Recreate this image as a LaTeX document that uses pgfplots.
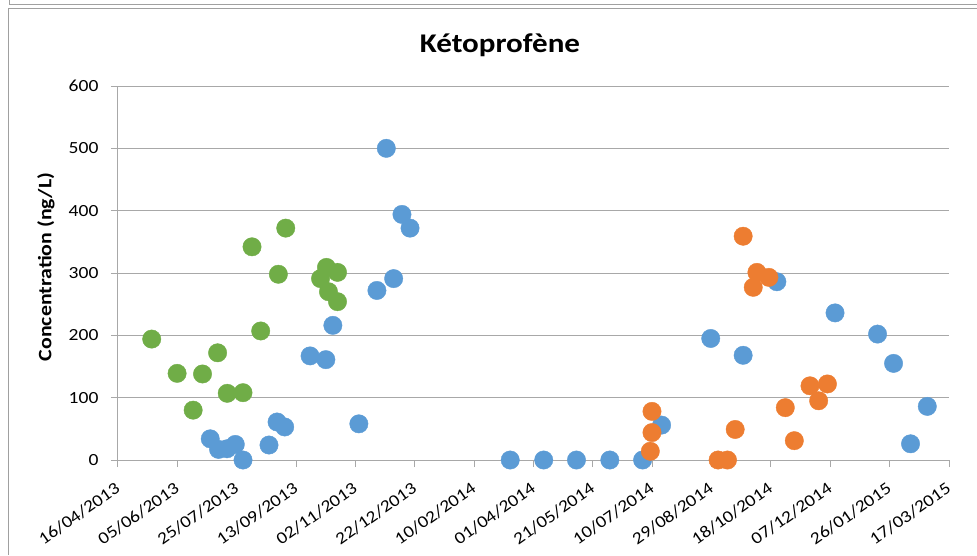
\documentclass[border=0pt]{standalone}
\usepackage{pgfplots}
\pgfplotsset{compat=1.18}
\usepackage{fontspec}
\setmainfont[FakeStretch=1.15]{Carlito}
\definecolor{cblue}{HTML}{5B9BD5}
\definecolor{corange}{HTML}{ED7D31}
\definecolor{cgreen}{HTML}{70AD47}
\definecolor{cgrid}{HTML}{A8A8A8}
\definecolor{cframe}{HTML}{A0A0A0}
\begin{document}
\begin{tikzpicture}[x=1pt,y=1pt]
\path[use as bounding box] (-118,-95) rectangle (859,460);
\draw[cframe, line width=1pt] (-108,460) -- (-108,455) -- (859,455);
\draw[cframe, line width=1pt] (-109,-95) -- (-109,451) -- (859,451);
\begin{axis}[
  at={(0pt,0pt)}, anchor=origin,
  scale only axis, width=831pt, height=374pt,
  xmin=0, xmax=700, ymin=0, ymax=600,
  clip=false,
  axis lines*=left,
  axis line style={cgrid, line width=1pt},
  ymajorgrids, grid style={cgrid, line width=1pt},
  xtick={0,50,...,700},
  xticklabels={16/04/2013,05/06/2013,25/07/2013,13/09/2013,02/11/2013,22/12/2013,10/02/2014,01/04/2014,21/05/2014,10/07/2014,29/08/2014,18/10/2014,07/12/2014,26/01/2015,17/03/2015},
  ytick={0,100,...,600},
  tick align=outside,
  major tick length=7pt,
  tick style={cgrid, line width=1pt},
  /pgf/number format/assume math mode=true,
  yticklabel style={font=\fontsize{17}{20}\selectfont, xshift=-9pt},
  xticklabel style={font=\fontsize{17}{20}\selectfont, rotate=35, anchor=east, xshift=-8pt, yshift=-16pt},
  every axis plot/.append style={only marks, mark=*, mark size=9.2pt},
]
\addplot[cgreen, mark options={draw=cgreen, fill=cgreen}] coordinates {
(28.4,194) (49.8,139) (63.3,80) (71.2,138) (83.9,172) (92.0,107) (105.3,108)
(112.9,342) (120.2,207) (135.1,298) (141.3,372) (170.6,291) (175.6,309)
(184.9,301) (177.3,270) (184.9,254)
};
\addplot[cblue, mark options={draw=cblue, fill=cblue}] coordinates {
(77.7,34) (84.7,17) (91.8,18) (98.8,25) (105.3,0) (127.2,24) (134.0,61)
(140.4,53) (161.8,167) (175.1,161) (181.0,216) (202.9,58) (218.1,272)
(226.0,500) (232.2,291) (239.2,394) (246.0,372) (330.4,0) (358.6,0)
(386.2,0) (414.3,0) (441.9,0) (457.9,56) (499.3,195) (526.6,168)
(555.0,286) (604.0,236) (639.8,202) (653.3,155) (667.6,26) (681.7,86)
};
\addplot[corange, mark options={draw=corange, fill=corange}] coordinates {
(448.4,14) (449.8,44) (449.8,78) (505.5,0) (513.4,0) (519.9,49)
(526.6,359) (535.1,277) (538.2,301) (548.3,293) (562.1,84) (569.7,31)
(582.9,119) (590.2,95) (597.6,122)
};
\end{axis}
\node[font=\fontsize{27}{30}\selectfont\bfseries] at (382,415) {Kétoprofène};
\node[font=\fontsize{19}{22}\selectfont\bfseries, rotate=90] at (-72,193) {Concentration (ng/L)};
\end{tikzpicture}
\end{document}
